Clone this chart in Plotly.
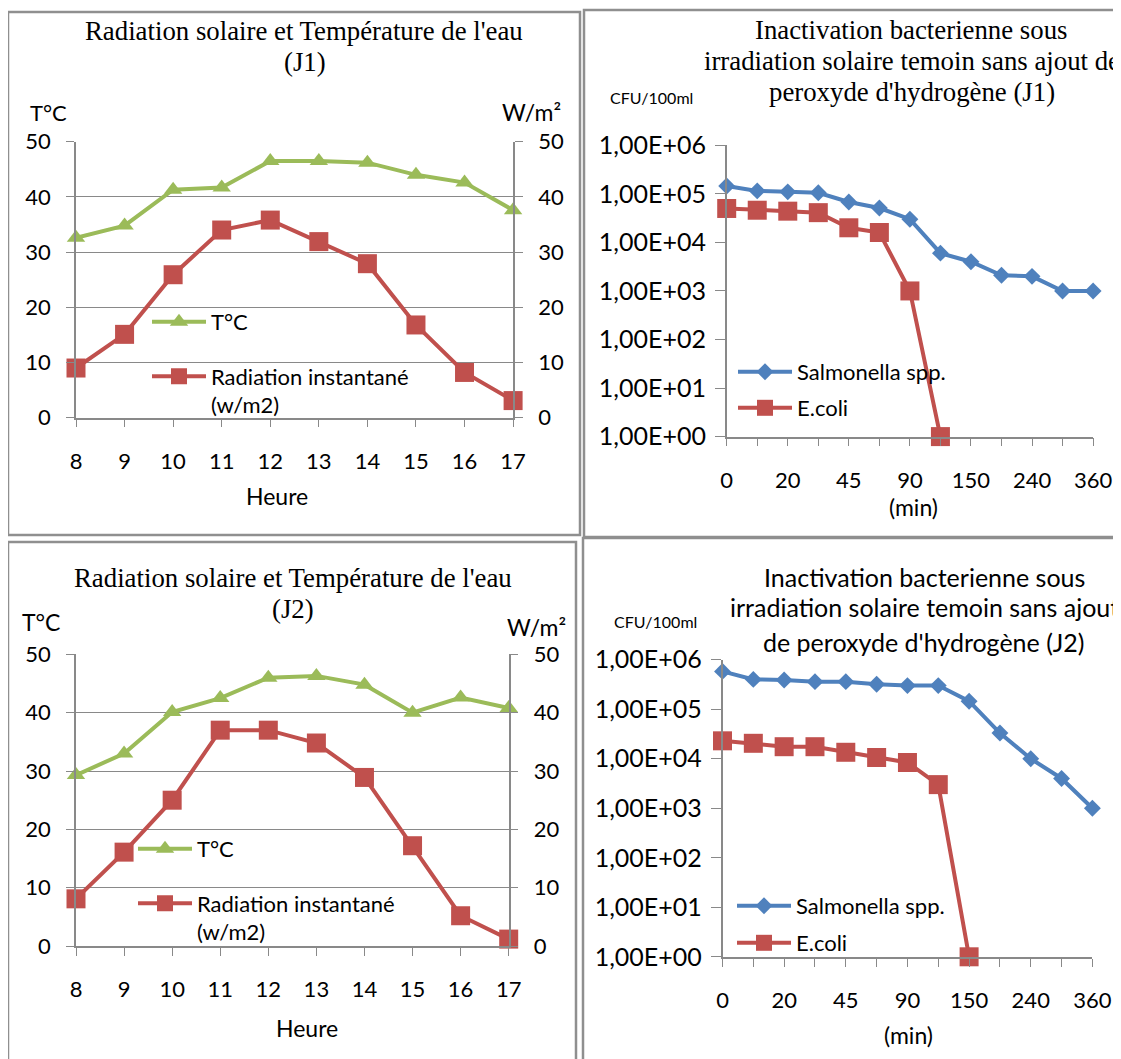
import plotly.graph_objects as go

# the page body adds an 8px margin, so the figure is 8px smaller and shifted
OFF = 8
W, H = 1121 - OFF, 1059 - OFF

# ---------------- data ----------------
hours = [8, 9, 10, 11, 12, 13, 14, 15, 16, 17]
temp_j1 = [32.6, 34.8, 41.3, 41.7, 46.5, 46.5, 46.2, 44.0, 42.6, 37.6]
rad_j1 = [9.0, 15.1, 25.9, 34.0, 35.8, 31.9, 27.9, 16.8, 8.2, 3.1]
temp_j2 = [29.3, 33.0, 40.1, 42.5, 46.0, 46.3, 44.8, 40.0, 42.6, 40.8]
rad_j2 = [8.1, 16.1, 25.0, 37.0, 37.0, 34.8, 28.9, 17.2, 5.2, 1.2]

minutes = ["0", "10", "20", "30", "45", "60", "90", "120", "150", "180", "240", "300", "360"]
minute_labels = ["0", "", "20", "", "45", "", "90", "", "150", "", "240", "", "360"]
salm_j1 = [1.45e5, 1.15e5, 1.1e5, 1.05e5, 6.8e4, 5.1e4, 3.0e4, 6.0e3, 4.0e3, 2.1e3, 2.0e3, 1.0e3, 1.0e3]
ecoli_j1 = [5.0e4, 4.6e4, 4.4e4, 4.1e4, 2.0e4, 1.6e4, 1.0e3, 1.0]
salm_j2 = [5.8e5, 4.0e5, 3.9e5, 3.6e5, 3.6e5, 3.2e5, 3.0e5, 3.0e5, 1.45e5, 3.3e4, 1.0e4, 4.0e3, 1.0e3]
ecoli_j2 = [2.3e4, 2.05e4, 1.75e4, 1.75e4, 1.35e4, 1.06e4, 8.4e3, 3.0e3, 1.0]

log_vals = [1, 10, 100, 1000, 1e4, 1e5, 1e6]
log_text = ["1,00E+00", "1,00E+01", "1,00E+02", "1,00E+03", "1,00E+04", "1,00E+05", "1,00E+06"]

GREEN = "#9BBB59"
RED = "#C0504D"
BLUE = "#4F81BD"
GRAY = "#898989"
SANS = "Lato"
SERIF = "Liberation Serif"
LW = 4


def X(p):
    return (p - OFF) / W


def Y(p):
    return 1 - (p - OFF) / H


fig = go.Figure()

# ---- top-left (J1 temperature / radiation)
fig.add_trace(go.Scatter(x=hours, y=temp_j1, name="T°C", mode="lines+markers",
                         line=dict(color=GREEN, width=LW),
                         marker=dict(symbol="triangle-up", size=16, color=GREEN),
                         xaxis="x", yaxis="y", legend="legend", cliponaxis=False))
fig.add_trace(go.Scatter(x=hours, y=rad_j1, name="Radiation instantané<br>(w/m2)", mode="lines+markers",
                         line=dict(color=RED, width=LW),
                         marker=dict(symbol="square", size=19, color=RED),
                         xaxis="x", yaxis="y2", legend="legend2", cliponaxis=False))

# ---- top-right (J1 bacteria)
fig.add_trace(go.Scatter(x=minutes, y=salm_j1, name="Salmonella spp.", mode="lines+markers",
                         line=dict(color=BLUE, width=LW),
                         marker=dict(symbol="diamond", size=13, color=BLUE),
                         xaxis="x2", yaxis="y3", legend="legend3", cliponaxis=False))
fig.add_trace(go.Scatter(x=minutes[:len(ecoli_j1)], y=ecoli_j1, name="E.coli", mode="lines+markers",
                         line=dict(color=RED, width=LW),
                         marker=dict(symbol="square", size=19, color=RED),
                         xaxis="x2", yaxis="y3", legend="legend4", cliponaxis=False))

# ---- bottom-left (J2 temperature / radiation)
fig.add_trace(go.Scatter(x=hours, y=temp_j2, name="T°C", mode="lines+markers",
                         line=dict(color=GREEN, width=LW),
                         marker=dict(symbol="triangle-up", size=16, color=GREEN),
                         xaxis="x3", yaxis="y4", legend="legend5", cliponaxis=False))
fig.add_trace(go.Scatter(x=hours, y=rad_j2, name="Radiation instantané<br>(w/m2)", mode="lines+markers",
                         line=dict(color=RED, width=LW),
                         marker=dict(symbol="square", size=19, color=RED),
                         xaxis="x3", yaxis="y5", legend="legend6", cliponaxis=False))

# ---- bottom-right (J2 bacteria)
fig.add_trace(go.Scatter(x=minutes, y=salm_j2, name="Salmonella spp.", mode="lines+markers",
                         line=dict(color=BLUE, width=LW),
                         marker=dict(symbol="diamond", size=13, color=BLUE),
                         xaxis="x4", yaxis="y6", legend="legend7", cliponaxis=False))
fig.add_trace(go.Scatter(x=minutes[:len(ecoli_j2)], y=ecoli_j2, name="E.coli", mode="lines+markers",
                         line=dict(color=RED, width=LW),
                         marker=dict(symbol="square", size=19, color=RED),
                         xaxis="x4", yaxis="y6", legend="legend8", cliponaxis=False))

tickfont = dict(family=SANS, size=22, color="#000000")


def lin_x(domain, anchor):
    return dict(domain=domain, anchor=anchor, range=[8, 17], tickmode="array", tickvals=hours,
                ticks="outside", ticklen=8, tickcolor=GRAY, showline=True, linecolor=GRAY,
                linewidth=1.5, showgrid=False, zeroline=False, tickfont=tickfont,
                ticklabelstandoff=15, automargin=False)


def lin_y(domain, anchor, side="left", overlay=None, grid=True):
    d = dict(anchor=anchor, range=[0, 50], dtick=10, side=side, ticks="outside", ticklen=8,
             tickcolor=GRAY, showline=True, linecolor=GRAY, linewidth=1.5, showgrid=grid,
             gridcolor=GRAY, gridwidth=1.3, zeroline=False, tickfont=tickfont, ticklabelstandoff=11,
             automargin=False)
    if overlay:
        d["overlaying"] = overlay
    else:
        d["domain"] = domain
    return d


def cat_x(domain, anchor):
    return dict(domain=domain, anchor=anchor, type="category", categoryorder="array",
                categoryarray=minutes, range=[0, 12], tickmode="array", tickvals=minutes,
                ticktext=minute_labels, ticks="outside", ticklen=8, tickcolor=GRAY,
                showline=True, linecolor=GRAY, linewidth=1.5, showgrid=False, zeroline=False,
                tickfont=tickfont, ticklabelstandoff=15, automargin=False)


def log_y(domain, anchor):
    return dict(domain=domain, anchor=anchor, type="log", range=[0, 6], tickmode="array",
                tickvals=log_vals, ticktext=log_text, ticks="outside", ticklen=10, tickcolor=GRAY,
                showline=True, linecolor=GRAY, linewidth=1.5, showgrid=False, zeroline=False,
                tickfont=dict(family=SANS, size=25, color="#000000"), ticklabelstandoff=4,
                automargin=False)


legfont = dict(family=SANS, size=22, color="#000000")


def leg(x, y, valign="middle"):
    return dict(x=X(x), y=Y(y), xanchor="left", yanchor="middle", bgcolor="rgba(0,0,0,0)",
                itemwidth=54, font=legfont, valign=valign, tracegroupgap=0)


annotations = []


def txt(text, x, y, size, family=SANS):
    annotations.append(dict(text=text, x=X(x), y=Y(y), xref="paper", yref="paper",
                            xanchor="center", yanchor="middle", showarrow=False,
                            font=dict(family=family, size=size, color="#000000")))


# titles / axis labels
txt("Radiation solaire et Température de l'eau", 304, 31, 26.8, SERIF)
txt("(J1)", 305, 62, 26.8, SERIF)
txt("T°C", 48, 112, 22)
txt("W/m²", 531, 112, 23)
txt("Heure", 277, 496, 23)

txt("Inactivation bacterienne sous", 912, 30, 26.8, SERIF)
txt("irradiation solaire temoin sans ajout de", 912, 61, 26.8, SERIF)
txt("peroxyde d'hydrogène (J1)", 912, 92, 26.8, SERIF)
txt("CFU/100ml", 651, 98, 16)
txt("(min)", 913, 507, 23)

txt("Radiation solaire et Température de l'eau", 293, 578, 26.8, SERIF)
txt("(J2)", 293, 609, 26.8, SERIF)
txt("T°C", 41, 622, 23)
txt("W/m²", 536, 627, 23)
txt("Heure", 307, 1028, 23)

txt("Inactivation bacterienne sous", 924, 577, 25)
txt("irradiation solaire temoin sans ajout", 924, 607, 25)
txt("de peroxyde d'hydrogène (J2)", 924, 642, 25)
txt("CFU/100ml", 655, 621, 16)
txt("(min)", 908, 1035, 23)

# panel borders
shapes = []
for (x0, y0, x1, y1) in [(8, 12, 580, 535), (584, 10, 1130, 537), (8, 542, 576, 1070), (583, 538, 1130, 1070)]:
    shapes.append(dict(type="rect", xref="paper", yref="paper", x0=X(x0), x1=X(x1), y0=Y(y1), y1=Y(y0),
                       line=dict(color="#8f8f8f", width=2.5), fillcolor="rgba(0,0,0,0)", layer="below"))

fig.update_layout(
    width=W, height=H, margin=dict(l=0, r=0, t=0, b=0, pad=0, autoexpand=False),
    paper_bgcolor="white", plot_bgcolor="white",
    xaxis=lin_x([X(76), X(513.1)], "y"),
    yaxis=lin_y([Y(417.7), Y(141.7)], "x"),
    yaxis2=lin_y(None, "x", side="right", overlay="y", grid=False),
    xaxis2=cat_x([X(726.7), X(1093.1)], "y3"),
    yaxis3=log_y([Y(436.6), Y(145.3)], "x2"),
    xaxis3=lin_x([X(76), X(508.7)], "y4"),
    yaxis4=lin_y([Y(946.1), Y(654.3)], "x3"),
    yaxis5=lin_y(None, "x3", side="right", overlay="y4", grid=False),
    xaxis4=cat_x([X(722.5), X(1092.4)], "y6"),
    yaxis6=log_y([Y(956.8), Y(659.7)], "x4"),
    legend=leg(147, 322),
    legend2=leg(147, 391, "top"),
    legend3=leg(733, 372),
    legend4=leg(733, 408),
    legend5=leg(133, 849),
    legend6=leg(133, 918, "top"),
    legend7=leg(732, 906),
    legend8=leg(732, 943),
    annotations=annotations,
    shapes=shapes,
    showlegend=True,
)

fig.write_html("out.html")
